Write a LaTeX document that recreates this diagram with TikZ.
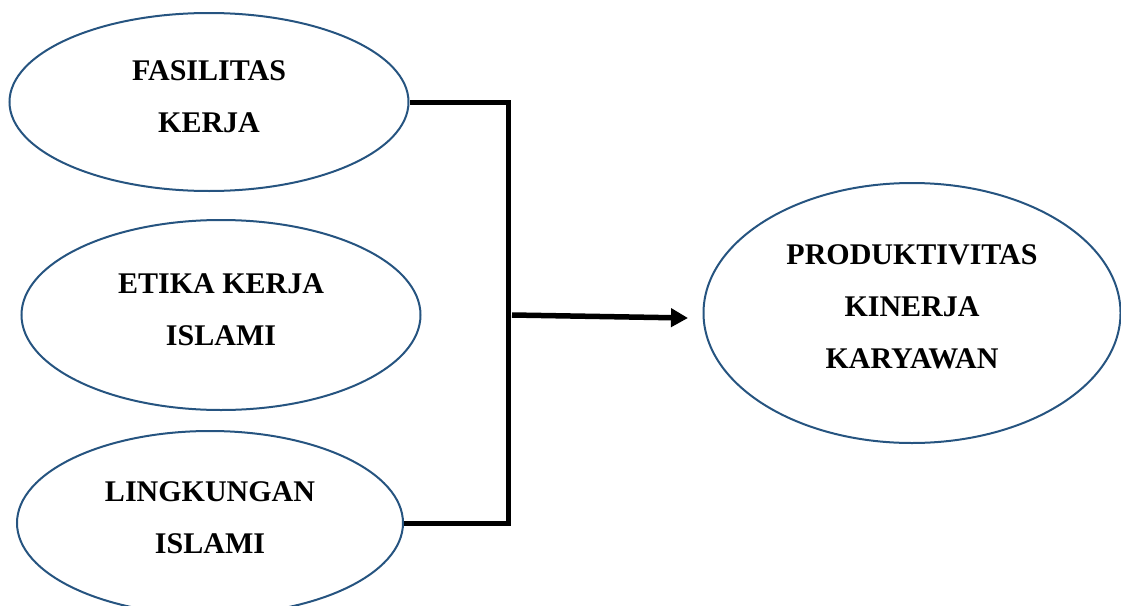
\documentclass[tikz,border=0pt]{standalone}
\usepackage{fontspec}
\setmainfont{Liberation Serif}
\usetikzlibrary{shapes.geometric,arrows.meta}
\definecolor{ellblue}{RGB}{38,84,128}
\begin{document}
\begin{tikzpicture}[x=1pt,y=-1pt,
  oval/.style={draw=ellblue,line width=2pt,shape=ellipse,inner sep=0pt},
  txt/.style={inner sep=0pt,align=center,font=\fontsize{30}{52}\selectfont\bfseries},
  conn/.style={draw=black,line width=5pt},
  arr/.style={draw=black,line width=5.5pt,-{Triangle[length=17pt,width=18pt]}}]
\useasboundingbox (0,0) rectangle (1121,605);
\node[oval,minimum width=399pt,minimum height=178pt] (f) at (209,102) {};
\node[oval,minimum width=399pt,minimum height=190pt] (e) at (221,315) {};
\node[oval,minimum width=386pt,minimum height=184pt] (l) at (210,523) {};
\node[oval,minimum width=417pt,minimum height=260pt] (p) at (912,313) {};
\node[txt] (ft) at ([yshift=5pt]f.center) {FASILITAS\\KERJA};
\node[txt] (et) at ([yshift=5pt]e.center) {ETIKA KERJA\\ISLAMI};
\node[txt] (lt) at ([yshift=5pt]l.center) {LINGKUNGAN\\ISLAMI};
\node[txt] (pt) at ([yshift=6pt]p.center) {PRODUKTIVITAS\\KINERJA\\KARYAWAN};
\coordinate (sp) at (508,315);
\coordinate (as) at (512,315);
\coordinate (ae) at (688,318);
\draw[conn] (f.east) -| (sp) |- (l.east);
\draw[arr] (as) -- (ae);
\end{tikzpicture}
\end{document}
